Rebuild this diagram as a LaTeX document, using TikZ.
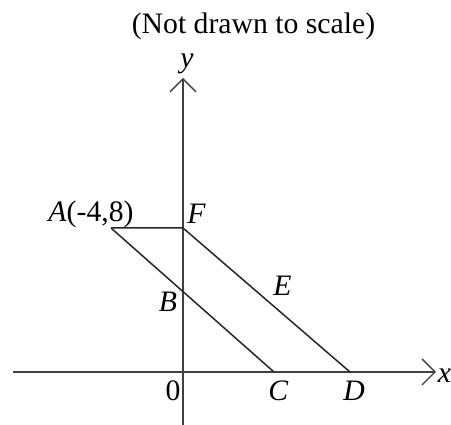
\documentclass[tikz,border=0pt]{standalone}
\usepackage{fontspec}
\setmainfont{Liberation Serif}
\usetikzlibrary{arrows.meta}
\begin{document}
\begin{tikzpicture}[x=1pt,y=-1pt,
  lbl/.style={inner sep=0pt, font=\fontsize{29.7pt}{32pt}\selectfont},
  axis/.style={line width=1.3pt, draw=black!75, -{Straight Barb[length=13pt,width=26pt,line width=1.3pt]}},
  edge/.style={line width=1.5pt, draw=black!85}]
\useasboundingbox (0,0) rectangle (451,425);
\coordinate (xl) at (13,372);
\coordinate (xr) at (436,372);
\coordinate (yb) at (183,425);
\coordinate (yt) at (183,78);
\coordinate (A) at (111,228);
\coordinate (F) at (183,228);
\coordinate (C) at (274,372);
\coordinate (D) at (350,372);
\draw[axis] (xl) -- (xr);
\draw[axis] (yb) -- (yt);
\draw[edge] (A) -- (F) -- (D);
\draw[edge] (A) -- (C);
\node[lbl] (title) at (253.5,26) {(Not drawn to scale)};
\node[lbl] (ylab) at (187,64) {\textit{y}};
\node[lbl] (xlab) at (444.5,376) {\textit{x}};
\node[lbl] (Alab) at (91,214) {\textit{A}(-4,8)};
\node[lbl] (Flab) at (196.5,214) {\textit{F}};
\node[lbl] (Blab) at (168,302) {\textit{B}};
\node[lbl] (Elab) at (282.5,286) {\textit{E}};
\node[lbl] (Clab) at (278.5,391) {\textit{C}};
\node[lbl] (Dlab) at (354,391) {\textit{D}};
\node[lbl] (Olab) at (173,391) {0};
\end{tikzpicture}
\end{document}
